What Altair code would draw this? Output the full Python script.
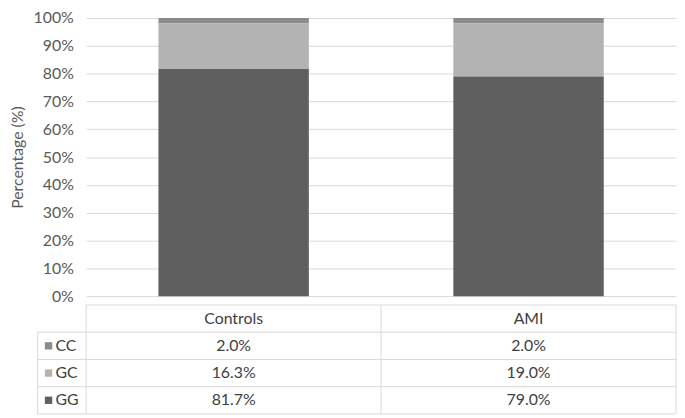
import altair as alt
import pandas as pd

# ---- data ----
groups = ["Controls", "AMI"]
genotypes = ["CC", "GC", "GG"]
cc_pct = [2.0, 2.0]
gc_pct = [16.3, 19.0]
gg_pct = [81.7, 79.0]
pct_labels = {"CC": ["2.0%", "2.0%"], "GC": ["16.3%", "19.0%"], "GG": ["81.7%", "79.0%"]}
y_ticks = [0, 10, 20, 30, 40, 50, 60, 70, 80, 90, 100]
colors = ["#8c8c8c", "#b3b3b3", "#5f5f5f"]

FONT = "Lato"
GRID = "#d9d9d9"
LABEL_COLOR = "#595959"
TEXT_COLOR = "#404040"
W = 596
H_TOP = 281
H_TAB = 110

series = {"CC": cc_pct, "GC": gc_pct, "GG": gg_pct}
stack_rank = {"GG": 0, "GC": 1, "CC": 2}
rows = []
for i, g in enumerate(groups):
    for gt in genotypes:
        rows.append({"group": g, "genotype": gt, "pct": series[gt][i], "rank": stack_rank[gt]})
df = pd.DataFrame(rows)

color_scale = alt.Scale(domain=genotypes, range=colors)

bars = alt.Chart(df).mark_bar().encode(
    x=alt.X("group:N", sort=groups,
            scale=alt.Scale(paddingInner=0.49, paddingOuter=0.245), axis=None),
    y=alt.Y("pct:Q", stack="zero", scale=alt.Scale(domain=[0, 100], nice=False),
            axis=alt.Axis(values=y_ticks, labelExpr="datum.value + '%'",
                          title="Percentage (%)", titleFont=FONT, titleFontSize=16,
                          titleFontWeight="normal", titleColor=LABEL_COLOR, titlePadding=8,
                          labelFont=FONT, labelFontSize=16, labelColor=LABEL_COLOR,
                          labelPadding=13, ticks=False, domain=False,
                          gridColor=GRID, gridWidth=1)),
    color=alt.Color("genotype:N", scale=color_scale, legend=None),
    order=alt.Order("rank:Q"),
).properties(width=W, height=H_TOP)

# ---- table ----
tab_rows = []
for ci, g in enumerate(groups):
    tab_rows.append({"x": ci + 0.5, "y": 0.5, "txt": g})
    for ri, gt in enumerate(genotypes, start=1):
        tab_rows.append({"x": ci + 0.5, "y": ri + 0.5, "txt": pct_labels[gt][ci]})
tab_df = pd.DataFrame(tab_rows)

xs = alt.Scale(domain=[0, 2], nice=False)
ys = alt.Scale(domain=[0, 4], nice=False, reverse=True)

cells = alt.Chart(tab_df).mark_text(font=FONT, fontSize=16, color=TEXT_COLOR).encode(
    x=alt.X("x:Q", scale=xs, axis=None),
    y=alt.Y("y:Q", scale=ys, axis=None),
    text="txt:N",
)

hl_df = pd.DataFrame({"y": [0, 1, 2, 3, 4], "x0": [0] * 5, "x1": [2] * 5})
hlines = alt.Chart(hl_df).mark_rule(color=GRID, strokeWidth=1).encode(
    x=alt.X("x0:Q", scale=xs, axis=None), x2="x1:Q",
    y=alt.Y("y:Q", scale=ys, axis=None),
)
hl_left = alt.Chart(pd.DataFrame({"y": [1, 2, 3, 4]})).mark_rule(color=GRID, strokeWidth=1).encode(
    x=alt.value(-49), x2=alt.value(0),
    y=alt.Y("y:Q", scale=ys, axis=None),
)
vl_df = pd.DataFrame({"x": [0, 1, 2], "y0": [0] * 3, "y1": [4] * 3})
vlines = alt.Chart(vl_df).mark_rule(color=GRID, strokeWidth=1).encode(
    x=alt.X("x:Q", scale=xs, axis=None),
    y=alt.Y("y0:Q", scale=ys, axis=None), y2="y1:Q",
)
vl_left = alt.Chart(pd.DataFrame({"y0": [1], "y1": [4]})).mark_rule(color=GRID, strokeWidth=1).encode(
    x=alt.value(-49),
    y=alt.Y("y0:Q", scale=ys, axis=None), y2="y1:Q",
)
leg_df = pd.DataFrame({"genotype": genotypes, "y": [1.5, 2.5, 3.5]})
swatches = alt.Chart(leg_df).mark_square(size=55, opacity=1).encode(
    x=alt.value(-38),
    y=alt.Y("y:Q", scale=ys, axis=None),
    color=alt.Color("genotype:N", scale=color_scale, legend=None),
)
leg_text = alt.Chart(leg_df).mark_text(font=FONT, fontSize=16, color=TEXT_COLOR, align="left").encode(
    x=alt.value(-31),
    y=alt.Y("y:Q", scale=ys, axis=None),
    text="genotype:N",
)

table = alt.layer(hlines, hl_left, vlines, vl_left, swatches, leg_text, cells).properties(
    width=W, height=H_TAB)

chart = alt.vconcat(bars, table, spacing=0).resolve_scale(color="shared").configure_view(
    stroke=None).properties(padding={"top": 0, "left": 1, "right": 0, "bottom": 0})

chart.save("out.html", embed_options={"renderer": "svg", "actions": False})
